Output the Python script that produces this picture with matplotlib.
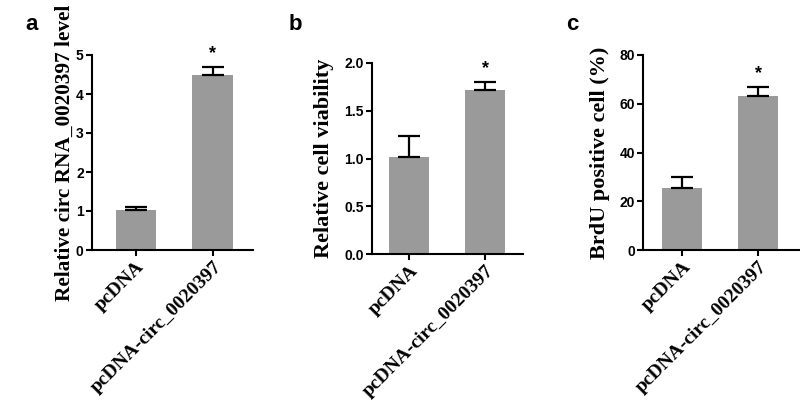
import matplotlib.pyplot as plt

groups = ['pcDNA', 'pcDNA-circ_0020397']

circ_level = [1.02, 4.48]
circ_err = [0.08, 0.22]
viability = [1.02, 1.72]
viability_err = [0.22, 0.08]
brdu = [25.3, 63.3]
brdu_err = [4.7, 3.5]

bar_color = '#9a9a9a'
serif = ['Liberation Serif', 'DejaVu Serif']
sans = ['Liberation Sans', 'DejaVu Sans']

fig = plt.figure(figsize=(8, 4), dpi=100)

panels = [
    # rect, xlim, values, errors, yticks, tick labels, ylabel, label size, letter, letter x, ylabel right edge x
    ([0.115, 0.375, 0.201, 0.4875], (-0.571, 1.519), circ_level, circ_err, [0, 1, 2, 3, 4, 5],
     ['0', '1', '2', '3', '4', '5'], 'Relative circ RNA_0020397 level', 15.3, 'a', 0.04, 0.093),
    ([0.465, 0.365, 0.189, 0.4775], (-0.487, 1.5), viability, viability_err, [0, 0.5, 1.0, 1.5, 2.0],
     ['0.0', '0.5', '1.0', '1.5', '2.0'], 'Relative cell viability', 16, 'b', 0.369, 0.417),
    ([0.804, 0.375, 0.196, 0.4875], (-0.513, 1.55), brdu, brdu_err, [0, 20, 40, 60, 80],
     ['0', '20', '40', '60', '80'], 'BrdU positive cell (%)', 16, 'c', 0.716, 0.763),
]

for rect, xlim, vals, errs, yt, ytl, ylab, lsize, letter, lx, ylx in panels:
    ax = fig.add_axes(rect)
    ax.bar([0, 1], vals, width=0.53, color=bar_color, zorder=2)
    ax.errorbar([0, 1], vals, yerr=[[0, 0], errs], fmt='none', ecolor='black',
                elinewidth=1.6, capsize=8, capthick=1.6, zorder=3)
    ax.set_xlim(*xlim)
    ax.set_ylim(0, yt[-1])
    ax.set_yticks(yt)
    ax.set_yticklabels(ytl, fontfamily=sans, fontweight='bold', fontsize=10)
    ax.set_xticks([0, 1])
    ax.set_xticklabels(groups, rotation=45, ha='right', rotation_mode='anchor',
                       fontfamily=serif, fontweight='bold', fontsize=14)
    for s in ['top', 'right']:
        ax.spines[s].set_visible(False)
    for s in ['left', 'bottom']:
        ax.spines[s].set_linewidth(1.5)
    ax.tick_params(width=1.5, length=4, pad=2)
    ax.set_ylabel(ylab, fontfamily=serif, fontweight='bold', fontsize=lsize)
    ax.yaxis.set_label_coords(ylx, rect[1] + rect[3] / 2, transform=fig.transFigure)
    ax.text(1, vals[1] + errs[1] + yt[-1] * 0.025, '*', ha='center', va='bottom',
            fontfamily=sans, fontweight='bold', fontsize=13)
    fig.text(lx, 0.94, letter, fontfamily=sans, fontweight='bold', fontsize=16,
             ha='center', va='center')

fig.savefig('out.png', dpi=100)
